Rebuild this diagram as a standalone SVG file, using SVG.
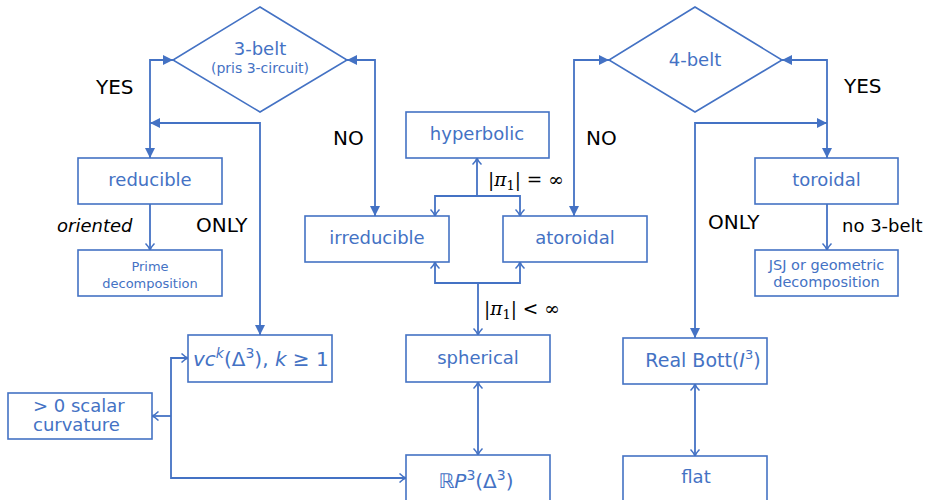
<svg xmlns="http://www.w3.org/2000/svg" width="930" height="500" viewBox="0 0 930 500">
<style>
  .box { fill: #ffffff; stroke: #4472C4; stroke-width: 1.6; }
  .t { font-family: "DejaVu Sans", sans-serif; fill: #4472C4; font-size: 18px; }
  .m { text-anchor: middle; }
  .lbl { font-family: "DejaVu Sans", sans-serif; fill: #000000; font-size: 20px; }
  .math { font-family: "DejaVu Serif", "Liberation Serif", serif; fill: #000000; font-size: 18.5px; }
  .c { fill: none; stroke: #4472C4; stroke-width: 1.8; }
  .cf { marker-start: url(#fa); marker-end: url(#fa); }
  .ce { marker-end: url(#oa); }
  .cb { marker-start: url(#oa); marker-end: url(#oa); }
  .it { font-style: italic; }
</style>
<defs>
  <marker id="fa" viewBox="0 0 10 10" refX="10" refY="5" markerUnits="userSpaceOnUse" markerWidth="11" markerHeight="10" orient="auto-start-reverse">
    <path d="M0,0 L10,5 L0,10 z" fill="#4472C4"/>
  </marker>
  <marker id="oa" viewBox="0 0 8 10" refX="7" refY="5" markerUnits="userSpaceOnUse" markerWidth="8" markerHeight="10" orient="auto-start-reverse">
    <path d="M0.5,0.5 Q4,4 7,5 Q4,6 0.5,9.5" fill="none" stroke="#4472C4" stroke-width="1.5"/>
  </marker>
</defs>

<g id="connectors">
  <path class="c cf" d="M150,158 V60 H173"/>
  <path class="c cf" d="M150,123 H260 V335"/>
  <path class="c cf" d="M347,60 H375 V216"/>
  <path class="c cf" d="M609,60 H574 V216"/>
  <path class="c cf" d="M782,60 H827 V158"/>
  <path class="c cf" d="M827,123 H695 V338"/>
  <path class="c ce" d="M150,204 V250"/>
  <path class="c ce" d="M827,204 V250"/>
  <path class="c" d="M477,196 V158" style="marker-end:url(#oa)"/>
  <path class="c cb" d="M435,216 V196 H520 V216"/>
  <path class="c cb" d="M435,262 V283 H520 V262"/>
  <path class="c ce" d="M478,283 V335"/>
  <path class="c cb" d="M478,382 V455"/>
  <path class="c cb" d="M695,384 V456"/>
  <path class="c cb" d="M188,358 H171 V478 H406"/>
  <path class="c ce" d="M171,416 H152"/>
</g>

<g id="labels">
  <text class="lbl" x="96" y="94">YES</text>
  <text class="lbl" x="333" y="145">NO</text>
  <text class="lbl" x="586" y="145">NO</text>
  <text class="lbl" x="844" y="93">YES</text>
  <text class="lbl" x="196" y="232">ONLY</text>
  <text class="lbl" x="708" y="229">ONLY</text>
  <text class="lbl it" x="57" y="232" style="font-size:18px">oriented</text>
  <text class="lbl" x="842" y="232" style="font-size:18px">no 3-belt</text>
  <text class="math" x="488" y="186">|<tspan class="it">π</tspan><tspan dy="4" font-size="13">1</tspan><tspan dy="-4">| = ∞</tspan></text>
  <text class="math" x="484" y="315">|<tspan class="it">π</tspan><tspan dy="4" font-size="13">1</tspan><tspan dy="-4">| &lt; ∞</tspan></text>
</g>

<g id="node-3belt">
  <polygon class="box" points="260,7 347,60 260,112 173,60"/>
  <text class="t m" x="260" y="55">3-belt</text>
  <text class="t m" x="260" y="73" style="font-size:14px">(pris 3-circuit)</text>
</g>
<g id="node-4belt">
  <polygon class="box" points="695,7 782,60 695,112 609,60"/>
  <text class="t m" x="695" y="66">4-belt</text>
</g>
<g id="node-reducible">
  <rect class="box" x="78" y="158" width="144" height="46"/>
  <text class="t m" x="150" y="186">reducible</text>
</g>
<g id="node-prime">
  <rect class="box" x="78" y="250" width="144" height="46"/>
  <text class="t m" x="150" y="271" style="font-size:13px">Prime</text>
  <text class="t m" x="150" y="288" style="font-size:13px">decomposition</text>
</g>
<g id="node-hyperbolic">
  <rect class="box" x="406" y="112" width="143" height="46"/>
  <text class="t m" x="477" y="140">hyperbolic</text>
</g>
<g id="node-irreducible">
  <rect class="box" x="305" y="216" width="144" height="46"/>
  <text class="t m" x="377" y="244">irreducible</text>
</g>
<g id="node-atoroidal">
  <rect class="box" x="503" y="216" width="144" height="46"/>
  <text class="t m" x="575" y="244">atoroidal</text>
</g>
<g id="node-toroidal">
  <rect class="box" x="755" y="158" width="143" height="46"/>
  <text class="t m" x="826.5" y="186">toroidal</text>
</g>
<g id="node-jsj">
  <rect class="box" x="755" y="250" width="143" height="46"/>
  <text class="t m" x="826.5" y="270" style="font-size:14.5px">JSJ or geometric</text>
  <text class="t m" x="826.5" y="287" style="font-size:14.5px">decomposition</text>
</g>
<g id="node-vc">
  <rect class="box" x="188" y="335" width="144" height="47"/>
  <text class="t" x="193" y="366" style="font-size:20px"><tspan class="it">vc</tspan><tspan class="it" dy="-8" font-size="14">k</tspan><tspan dy="8">(Δ</tspan><tspan dy="-8" font-size="14">3</tspan><tspan dy="8">), </tspan><tspan class="it">k</tspan> ≥ 1</text>
</g>
<g id="node-spherical">
  <rect class="box" x="406" y="335" width="144" height="47"/>
  <text class="t m" x="478" y="364">spherical</text>
</g>
<g id="node-realbott">
  <rect class="box" x="623" y="338" width="144" height="46"/>
  <text class="t m" x="703" y="367" style="font-size:19px">Real Bott(<tspan class="it">I</tspan><tspan dy="-8" font-size="13">3</tspan><tspan dy="8">)</tspan></text>
</g>
<g id="node-scalar">
  <rect class="box" x="8" y="393" width="144" height="46"/>
  <text class="t" x="33" y="412">&gt; 0 scalar</text>
  <text class="t" x="33" y="431">curvature</text>
</g>
<g id="node-rp3">
  <rect class="box" x="406" y="455" width="144" height="46"/>
  <text class="t m" x="476" y="488" style="font-size:20px">ℝ<tspan class="it">P</tspan><tspan dy="-8" font-size="14">3</tspan><tspan dy="8">(Δ</tspan><tspan dy="-8" font-size="14">3</tspan><tspan dy="8">)</tspan></text>
</g>
<g id="node-flat">
  <rect class="box" x="623" y="456" width="144" height="46"/>
  <text class="t m" x="696" y="483">flat</text>
</g>
</svg>
